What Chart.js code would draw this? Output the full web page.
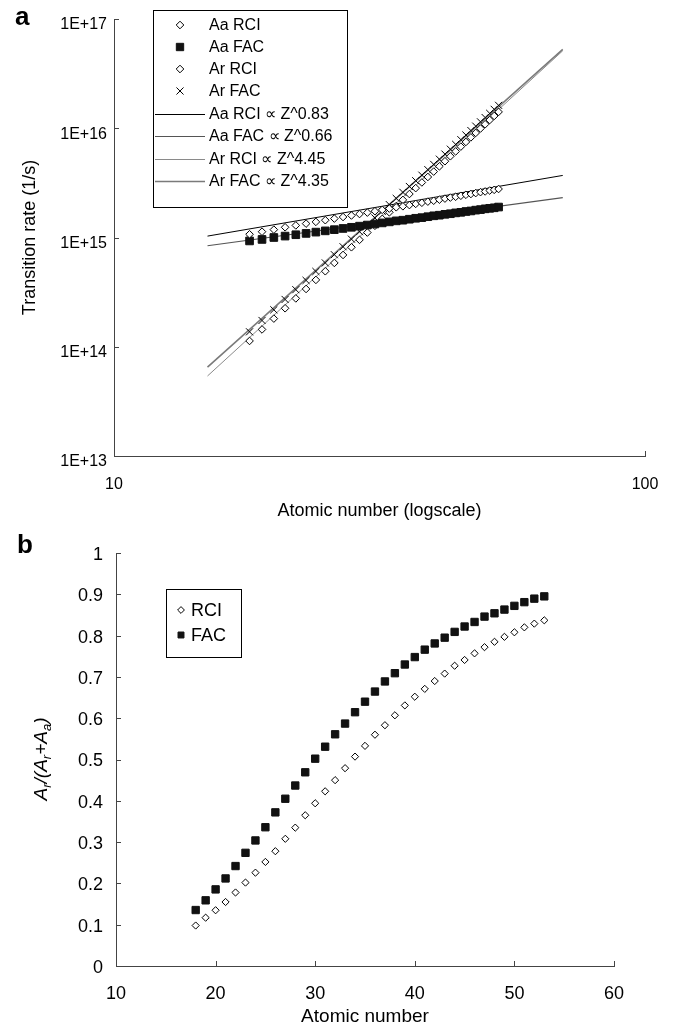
<!DOCTYPE html>
<html>
<head>
<meta charset="utf-8">
<title>Transition rates and fluorescence yield</title>
<script src="https://cdn.jsdelivr.net/npm/chart.js@4.4.1/dist/chart.umd.min.js"></script>
<style>
  html, body { margin: 0; padding: 0; background: #ffffff; }
  #page { position: relative; width: 679px; height: 1030px; overflow: hidden; background: #ffffff; }
  canvas { position: absolute; left: 0; }
  #ca { top: 0; }
  #cb { top: 520px; }
  .panel { position: absolute; font: bold 26px "Liberation Sans", Arial, sans-serif; color: #000; line-height: 1; }
</style>
</head>
<body>
<div id="page">
  <canvas id="ca" width="679" height="530"></canvas>
  <canvas id="cb" width="679" height="510"></canvas>
  <div class="panel" style="left:15px;top:3px;">a</div>
  <div class="panel" style="left:17px;top:531px;">b</div>
</div>
<script>
// ---------- data ----------
const Z = [18,19,20,21,22,23,24,25,26,27,28,29,30,31,32,33,34,35,36,37,38,39,40,41,42,43,44,45,46,47,48,49,50,51,52,53];

// panel a: transition rates (1/s)
const aaRci = [1.07e15,1.13e15,1.18e15,1.24e15,1.29e15,1.34e15,1.39e15,1.44e15,1.49e15,1.54e15,1.59e15,1.64e15,1.69e15,1.74e15,1.79e15,1.84e15,1.89e15,1.93e15,1.98e15,2.03e15,2.08e15,2.13e15,2.17e15,2.22e15,2.27e15,2.32e15,2.36e15,2.41e15,2.46e15,2.50e15,2.55e15,2.60e15,2.64e15,2.69e15,2.73e15,2.78e15];
const aaFac = [0.93e15,0.96e15,1.00e15,1.03e15,1.06e15,1.09e15,1.12e15,1.15e15,1.18e15,1.21e15,1.24e15,1.27e15,1.30e15,1.33e15,1.36e15,1.39e15,1.42e15,1.44e15,1.47e15,1.50e15,1.52e15,1.55e15,1.58e15,1.60e15,1.63e15,1.65e15,1.68e15,1.70e15,1.73e15,1.75e15,1.78e15,1.80e15,1.83e15,1.85e15,1.87e15,1.90e15];
const arRci = [1.13e14,1.44e14,1.81e14,2.25e14,2.77e14,3.38e14,4.09e14,4.91e14,5.85e14,6.92e14,8.14e14,9.52e14,1.11e15,1.28e15,1.48e15,1.70e15,1.94e15,2.21e15,2.50e15,2.83e15,3.19e15,3.58e15,4.01e15,4.48e15,4.99e15,5.54e15,6.14e15,6.79e15,7.49e15,8.25e15,9.06e15,9.94e15,1.088e16,1.189e16,1.296e16,1.411e16];
const arFac = [1.37e14,1.74e14,2.18e14,2.71e14,3.33e14,4.05e14,4.89e14,5.85e14,6.96e14,8.23e14,9.66e14,1.13e15,1.31e15,1.51e15,1.74e15,2.00e15,2.28e15,2.59e15,2.93e15,3.31e15,3.72e15,4.18e15,4.67e15,5.21e15,5.80e15,6.43e15,7.12e15,7.86e15,8.67e15,9.53e15,1.046e16,1.145e16,1.253e16,1.368e16,1.490e16,1.621e16];

// panel a: power-law fit lines (end points)
const fitZ = [15, 70];
const fitAaRci = [1.03e15, 3.70e15];
const fitAaFac = [8.4e14, 2.32e15];
const fitArRci = [5.4e13, 5.12e16];
const fitArFac = [6.5e13, 5.28e16];

const xTickValsA = [10, 100];
const xTickLabelsA = ['10', '100'];
const yTickValsA = [1e13, 1e14, 1e15, 1e16, 1e17];
const yTickLabelsA = ['1E+13', '1E+14', '1E+15', '1E+16', '1E+17'];

// panel b: Ar/(Ar+Aa)
const yieldRci = [0.098,0.117,0.135,0.155,0.178,0.202,0.226,0.252,0.278,0.308,0.335,0.365,0.394,0.423,0.450,0.479,0.507,0.533,0.560,0.583,0.607,0.631,0.652,0.671,0.690,0.708,0.727,0.741,0.757,0.772,0.785,0.797,0.808,0.820,0.829,0.837];
const yieldFac = [0.1355,0.159,0.1855,0.212,0.242,0.274,0.304,0.336,0.372,0.405,0.437,0.469,0.502,0.531,0.561,0.587,0.6145,0.640,0.6645,0.689,0.709,0.730,0.748,0.766,0.781,0.795,0.809,0.822,0.833,0.846,0.854,0.863,0.872,0.881,0.8895,0.895];

const xTickValsB = [10, 20, 30, 40, 50, 60];
const xTickLabelsB = ['10', '20', '30', '40', '50', '60'];
const yTickValsB = [0, 0.1, 0.2, 0.3, 0.4, 0.5, 0.6, 0.7, 0.8, 0.9, 1];
const yTickLabelsB = ['0', '0.1', '0.2', '0.3', '0.4', '0.5', '0.6', '0.7', '0.8', '0.9', '1'];

// ---------- styling ----------
const FONT = '"Liberation Sans", Arial, sans-serif';
const AXIS = '#444444';
const pts = (xs, ys) => xs.map((x, i) => ({ x: x, y: ys[i] }));

const insideTicks = {
  id: 'insideTicks',
  afterDatasetsDraw(chart, args, o) {
    const { ctx, chartArea: a } = chart;
    const x = chart.scales.x, y = chart.scales.y;
    ctx.save();
    ctx.strokeStyle = o.color;
    ctx.lineWidth = 1;
    ctx.beginPath();
    x.ticks.forEach(t => {
      const p = Math.round(x.getPixelForValue(t.value)) + 0.5;
      ctx.moveTo(p, a.bottom); ctx.lineTo(p, a.bottom - o.len);
    });
    y.ticks.forEach(t => {
      const p = Math.round(y.getPixelForValue(t.value)) + 0.5;
      ctx.moveTo(a.left, p); ctx.lineTo(a.left + o.len, p);
    });
    ctx.stroke();
    ctx.restore();
  }
};

const boxLegend = {
  id: 'boxLegend',
  afterDraw(chart, args, o) {
    const ctx = chart.ctx;
    ctx.save();
    ctx.fillStyle = '#ffffff';
    ctx.fillRect(o.box[0], o.box[1], o.box[2], o.box[3]);
    ctx.strokeStyle = '#000000';
    ctx.lineWidth = 1;
    ctx.strokeRect(o.box[0] + 0.5, o.box[1] + 0.5, o.box[2], o.box[3]);
    ctx.font = o.size + 'px ' + FONT;
    ctx.textBaseline = 'middle';
    ctx.textAlign = 'left';
    chart.data.datasets.forEach((ds, i) => {
      const yy = o.rows[i];
      if (ds.showLine) {
        ctx.strokeStyle = ds.borderColor;
        ctx.lineWidth = ds.borderWidth;
        ctx.beginPath();
        ctx.moveTo(o.lineX[0], yy + 0.5); ctx.lineTo(o.lineX[1], yy + 0.5);
        ctx.stroke();
      } else {
        ctx.fillStyle = ds.backgroundColor;
        ctx.strokeStyle = ds.borderColor;
        ctx.lineWidth = ds.borderWidth;
        Chart.helpers.drawPoint(ctx, { pointStyle: ds.pointStyle, radius: ds.legendRadius || ds.pointRadius, borderWidth: ds.borderWidth, rotation: 0 }, o.markX, yy);
      }
      ctx.fillStyle = '#000000';
      ctx.fillText(ds.label, o.textX, yy + 1);
    });
    ctx.restore();
  }
};

const richYTitle = {
  id: 'richYTitle',
  afterDraw(chart, args, o) {
    const ctx = chart.ctx;
    const big = 'italic ' + o.size + 'px ' + FONT;
    const small = 'italic ' + o.subSize + 'px ' + FONT;
    ctx.save();
    let w = 0;
    const widths = o.parts.map(p => { ctx.font = p.sub ? small : big; const m = ctx.measureText(p.t).width; w += m; return m; });
    ctx.translate(o.x, o.y);
    ctx.rotate(-Math.PI / 2);
    ctx.fillStyle = '#000000';
    ctx.textAlign = 'left';
    ctx.textBaseline = 'alphabetic';
    let cx = -w / 2;
    o.parts.forEach((p, i) => {
      ctx.font = p.sub ? small : big;
      ctx.fillText(p.t, cx, p.sub ? o.base + o.subShift : o.base);
      cx += widths[i];
    });
    ctx.restore();
  }
};

// ---------- panel a ----------
new Chart(document.getElementById('ca'), {
  type: 'scatter',
  data: {
    datasets: [
      { label: 'Aa RCI', data: pts(Z, aaRci), pointStyle: 'rectRot', pointRadius: 3.8, legendRadius: 3.8, borderColor: '#000', backgroundColor: '#fff', borderWidth: 1 },
      { label: 'Aa FAC', data: pts(Z, aaFac), pointStyle: 'rect', pointRadius: 5.4, legendRadius: 5.2, borderColor: '#111', backgroundColor: '#111', borderWidth: 1 },
      { label: 'Ar RCI', data: pts(Z, arRci), pointStyle: 'rectRot', pointRadius: 3.8, legendRadius: 3.8, borderColor: '#000', backgroundColor: '#fff', borderWidth: 1 },
      { label: 'Ar FAC', data: pts(Z, arFac), pointStyle: 'crossRot', pointRadius: 5, legendRadius: 5, borderColor: '#000', backgroundColor: '#000', borderWidth: 1 },
      { label: 'Aa RCI \u221D Z^0.83', data: pts(fitZ, fitAaRci), showLine: true, pointRadius: 0, borderColor: '#000000', borderWidth: 1 },
      { label: 'Aa FAC \u221D Z^0.66', data: pts(fitZ, fitAaFac), showLine: true, pointRadius: 0, borderColor: '#555555', borderWidth: 1.2 },
      { label: 'Ar RCI \u221D Z^4.45', data: pts(fitZ, fitArRci), showLine: true, pointRadius: 0, borderColor: '#8a8a8a', borderWidth: 1 },
      { label: 'Ar FAC \u221D Z^4.35', data: pts(fitZ, fitArFac), showLine: true, pointRadius: 0, borderColor: '#7a7a7a', borderWidth: 1.6 }
    ]
  },
  options: {
    responsive: false, animation: false, devicePixelRatio: 1, events: [],
    layout: { padding: { left: 0, right: 34, top: 19, bottom: 0 } },
    plugins: {
      legend: { display: false }, tooltip: { enabled: false },
      insideTicks: { len: 5, color: AXIS },
      boxLegend: { box: [153, 10, 194, 197], rows: [25, 47, 69, 91, 114, 136, 159, 181], markX: 180, lineX: [155, 205], textX: 209, size: 16 }
    },
    scales: {
      x: {
        type: 'logarithmic', position: 'bottom', min: 10, max: 100,
        afterBuildTicks: s => { s.ticks = xTickValsA.map(v => ({ value: v })); },
        afterFit: s => { s.height = 74; },
        grid: { display: false, drawTicks: false },
        border: { display: true, color: AXIS, width: 1 },
        ticks: { autoSkip: false, maxRotation: 0, padding: 19, color: '#000', font: { family: FONT, size: 16 }, callback: (v, i) => xTickLabelsA[i] },
        title: { display: true, text: 'Atomic number (logscale)', color: '#000', font: { family: FONT, size: 18 }, padding: { top: 0, bottom: 8 } }
      },
      y: {
        type: 'logarithmic', position: 'left', min: 1e13, max: 1e17,
        afterBuildTicks: s => { s.ticks = yTickValsA.map(v => ({ value: v })); },
        afterFit: s => { s.width = 114; },
        grid: { display: false, drawTicks: false },
        border: { display: true, color: AXIS, width: 1 },
        ticks: { autoSkip: false, padding: 7, labelOffset: 6, color: '#000', font: { family: FONT, size: 16 }, callback: (v, i) => yTickLabelsA[i] },
        title: { display: true, text: 'Transition rate (1/s)', color: '#000', font: { family: FONT, size: 18 }, padding: { top: 19, bottom: 0 } }
      }
    }
  },
  plugins: [insideTicks, boxLegend]
});

// ---------- panel b ----------
new Chart(document.getElementById('cb'), {
  type: 'scatter',
  data: {
    datasets: [
      { label: 'RCI', data: pts(Z, yieldRci), pointStyle: 'rectRot', pointRadius: 3.6, legendRadius: 3.4, borderColor: '#000', backgroundColor: '#fff', borderWidth: 1 },
      { label: 'FAC', data: pts(Z, yieldFac), pointStyle: 'rect', pointRadius: 5.2, legendRadius: 4.2, borderColor: '#111', backgroundColor: '#111', borderWidth: 1 }
    ]
  },
  options: {
    responsive: false, animation: false, devicePixelRatio: 1, events: [],
    layout: { padding: { left: 0, right: 65, top: 33, bottom: 0 } },
    plugins: {
      legend: { display: false }, tooltip: { enabled: false },
      insideTicks: { len: 5, color: AXIS },
      boxLegend: { box: [166, 69, 75, 68], rows: [90, 115], markX: 181, lineX: [0, 0], textX: 191, size: 18 },
      richYTitle: { x: 40, y: 239, size: 19, subSize: 13, base: 7, subShift: 4,
        parts: [{ t: 'A' }, { t: 'r', sub: true }, { t: '/(' }, { t: 'A' }, { t: 'r', sub: true }, { t: '+' }, { t: 'A' }, { t: 'a', sub: true }, { t: ')' }] }
    },
    scales: {
      x: {
        type: 'linear', position: 'bottom', min: 10, max: 60,
        afterBuildTicks: s => { s.ticks = xTickValsB.map(v => ({ value: v })); },
        afterFit: s => { s.height = 64; },
        grid: { display: false, drawTicks: false },
        border: { display: true, color: AXIS, width: 1 },
        ticks: { autoSkip: false, maxRotation: 0, padding: 17, color: '#000', font: { family: FONT, size: 18 }, callback: (v, i) => xTickLabelsB[i] },
        title: { display: true, text: 'Atomic number', color: '#000', font: { family: FONT, size: 19 }, padding: { top: 0, bottom: 2 } }
      },
      y: {
        type: 'linear', position: 'left', min: 0, max: 1,
        afterBuildTicks: s => { s.ticks = yTickValsB.map(v => ({ value: v })); },
        afterFit: s => { s.width = 116; },
        grid: { display: false, drawTicks: false },
        border: { display: true, color: AXIS, width: 1 },
        ticks: { autoSkip: false, padding: 13, labelOffset: 2, color: '#000', font: { family: FONT, size: 18 }, callback: (v, i) => yTickLabelsB[i] },
        title: { display: false }
      }
    }
  },
  plugins: [insideTicks, boxLegend, richYTitle]
});
</script>
</body>
</html>
